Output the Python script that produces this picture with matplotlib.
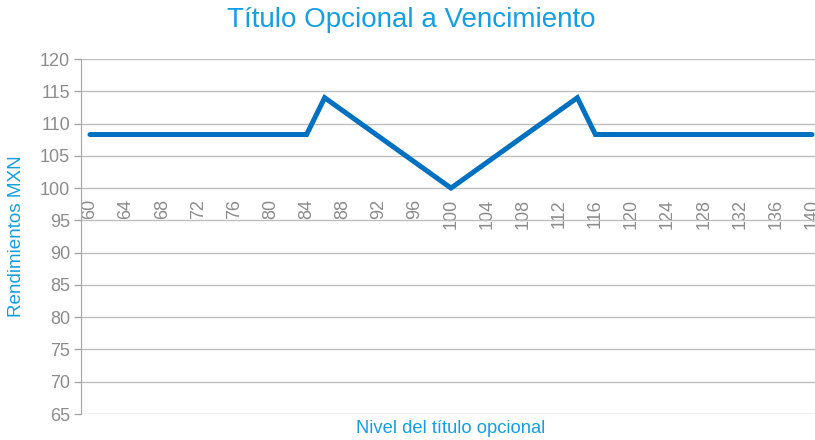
import matplotlib
matplotlib.use("Agg")
import matplotlib.pyplot as plt
import numpy as np

plt.rcParams['font.family'] = ['Liberation Sans', 'DejaVu Sans']

levels = list(range(60, 141, 2))
returns = [108.3] * 13 + [114, 112, 110, 108, 106, 104, 102, 100,
                          102, 104, 106, 108, 110, 112, 114] + [108.3] * 13
tick_labels = [str(v) for v in range(60, 141, 4)]

title = "Título Opcional a Vencimiento"
xlabel = "Nivel del título opcional"
ylabel = "Rendimientos MXN"

fig = plt.figure(figsize=(8.15, 4.40), dpi=100)
W, H = 815, 440
ax = fig.add_axes([81 / W, 26 / H, (821 - 81) / W, (414 - 59) / H])

x = np.arange(len(levels))
ax.plot(x, returns, color='#0070c0', lw=3.6, solid_capstyle='round',
        solid_joinstyle='miter', zorder=3, clip_on=False)

ax.set_xlim(-0.5, len(levels) - 0.5)
ax.set_ylim(65, 120)
ax.set_yticks(np.arange(65, 121, 5))
ax.yaxis.grid(True, color='#bfbfbf', lw=1.0)
ax.set_axisbelow(True)

ax.spines['bottom'].set_position(('data', 100))
ax.spines['bottom'].set_visible(False)
ax.spines['top'].set_visible(False)
ax.spines['right'].set_visible(False)
ax.spines['left'].set_color('#a6a6a6')
ax.set_xticks(x[::2])
ax.set_xticklabels(tick_labels)
ax.tick_params(axis='x', length=0, pad=8, labelsize=13, labelcolor='#8c8c8c',
               labelrotation=90)
ax.tick_params(axis='y', length=5, width=1, color='#a6a6a6', pad=3,
               labelsize=13, labelcolor='#8c8c8c')

fig.text(0.505, 1 - 20 / H, title, ha='center', va='center', fontsize=20,
         color='#149fe0')
fig.text(451 / W, 1 - 428 / H, xlabel, ha='center', va='center',
         fontsize=13.2, color='#149fe0')
fig.text(17 / W, 1 - 236 / H, ylabel, ha='center', va='center',
         rotation=90, fontsize=13.6, color='#149fe0')

fig.savefig('out.png', dpi=100)
